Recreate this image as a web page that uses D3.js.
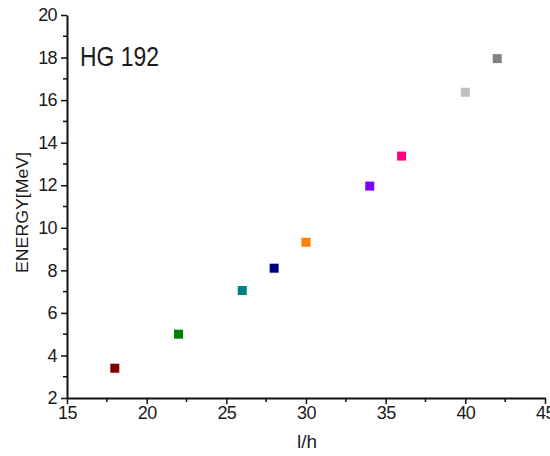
<!DOCTYPE html>
<html>
<head>
<meta charset="utf-8">
<script src="https://cdn.jsdelivr.net/npm/d3@7"></script>
<style>
  body { margin: 0; background: #fff; }
  text { font-family: "Liberation Sans Narrow", "Liberation Sans", Arial, sans-serif; fill: #1a1a1a; }
</style>
</head>
<body>
<div class="chart"></div>
<script>
// spin l/h vs level energy, one colour per state
const spins = [18, 22, 26, 28, 30, 34, 36, 40, 42];
const energies = [3.4, 5.0, 7.05, 8.1, 9.32, 11.96, 13.37, 16.37, 17.95];
const colors = ["#800000", "#008000", "#008080", "#000080", "#ff8000", "#8000ff", "#ff0080", "#c0c0c0", "#808080"];
const xTicks = [15, 20, 25, 30, 35, 40, 45];
const yTicks = [2, 4, 6, 8, 10, 12, 14, 16, 18, 20];

const WIDTH = 550, HEIGHT = 456;
const MARGINS = { top: 15, right: 5, bottom: 58, left: 67 };

const svg = d3.select(".chart").append("svg")
  .attr("width", WIDTH).attr("height", HEIGHT);

const xRange = d3.scaleLinear().domain([15, 45])
  .range([MARGINS.left, WIDTH - MARGINS.right]);
const yRange = d3.scaleLinear().domain([2, 20])
  .range([HEIGHT - MARGINS.bottom, MARGINS.top]);

// minor ticks
const xMinor = d3.range(17.5, 45, 5);
const yMinor = d3.range(3, 20, 2);

svg.selectAll(".xminor").data(xMinor).enter().append("line")
  .attr("x1", d => xRange(d)).attr("x2", d => xRange(d))
  .attr("y1", yRange(2)).attr("y2", yRange(2) + 4)
  .attr("stroke", "#111").attr("stroke-width", 1.5);
svg.selectAll(".yminor").data(yMinor).enter().append("line")
  .attr("x1", xRange(15) - 4).attr("x2", xRange(15))
  .attr("y1", d => yRange(d)).attr("y2", d => yRange(d))
  .attr("stroke", "#111").attr("stroke-width", 1.5);

const xAxis = svg.append("g")
  .attr("transform", `translate(0,${yRange(2)})`)
  .call(d3.axisBottom(xRange).tickValues(xTicks).tickSize(6).tickSizeOuter(0));
const yAxis = svg.append("g")
  .attr("transform", `translate(${xRange(15)},0)`)
  .call(d3.axisLeft(yRange).tickValues(yTicks).tickSize(6).tickSizeOuter(0));

[xAxis, yAxis].forEach(g => {
  g.select(".domain").attr("stroke", "#111").attr("stroke-width", 2);
  g.selectAll(".tick line").attr("stroke", "#111").attr("stroke-width", 1.5);
  g.selectAll(".tick text").style("font-size", "18px").style("letter-spacing", "-0.6px")
    .style("font-family", "'Liberation Sans Narrow', 'Liberation Sans', sans-serif")
    .attr("fill", "#1a1a1a");
});
xAxis.selectAll(".tick text").attr("dy", "0.8em").attr("y", 7);
yAxis.selectAll(".tick text").attr("x", -10);

// points
svg.selectAll(".pt").data(spins).enter().append("rect")
  .attr("class", "pt")
  .attr("x", d => xRange(d) - 4.5)
  .attr("y", (d, i) => yRange(energies[i]) - 4.5)
  .attr("width", 9).attr("height", 9)
  .attr("fill", (d, i) => colors[i]);

svg.append("text")
  .attr("x", 80).attr("y", 66)
  .attr("textLength", 79).attr("lengthAdjust", "spacingAndGlyphs")
  .style("font-size", "28px")
  .text("HG 192");

svg.append("text")
  .attr("x", 297).attr("y", 448)
  .attr("textLength", 20).attr("lengthAdjust", "spacingAndGlyphs")
  .style("font-size", "18px")
  .text("l/h");

svg.append("text")
  .attr("transform", "translate(28,273) rotate(-90)")
  .attr("textLength", 121).attr("lengthAdjust", "spacingAndGlyphs")
  .style("font-size", "17px")
  .text("ENERGY[MeV]");
</script>
</body>
</html>
